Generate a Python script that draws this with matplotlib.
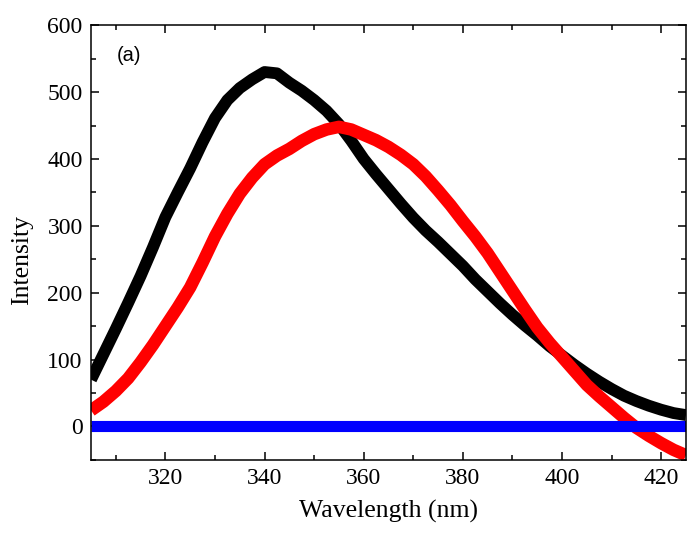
import matplotlib
matplotlib.use("Agg")
import matplotlib.pyplot as plt
from matplotlib.ticker import MultipleLocator

# wavelength grid (nm) and intensities
wavelength = [305, 307.5, 310, 312.5, 315, 317.5, 320, 322.5, 325, 327.5,
              330, 332.5, 335, 337.5, 340, 342.5, 345, 347.5, 350, 352.5,
              355, 357.5, 360, 362.5, 365, 367.5, 370, 372.5, 375, 377.5,
              380, 382.5, 385, 387.5, 390, 392.5, 395, 397.5, 400, 402.5,
              405, 407.5, 410, 412.5, 415, 417.5, 420, 422.5, 425]
black_int = [70, 108, 146, 185, 225, 268, 313, 350, 386, 425,
             461, 488, 506, 519, 530, 528, 514, 502, 488, 472,
             452, 427, 400, 377, 355, 333, 312, 293, 276, 258,
             240, 220, 202, 184, 167, 151, 136, 120, 106, 92,
             79, 67, 56, 46, 38, 31, 25, 20, 17]
red_int = [24, 37, 53, 72, 96, 122, 150, 178, 208, 245,
           284, 318, 348, 372, 392, 405, 415, 427, 437, 444,
           448, 444, 436, 428, 418, 406, 392, 374, 353, 331,
           307, 284, 259, 231, 203, 175, 148, 125, 104, 83,
           62, 45, 29, 13, -2, -14, -25, -35, -43]
blue_int = [0] * len(wavelength)

fig = plt.figure(figsize=(6.87, 5.36), dpi=100)
ax = fig.add_axes([0.1325, 0.142, 0.866, 0.811])

ax.plot(wavelength, black_int, color="black", lw=8.5, solid_joinstyle="round", solid_capstyle="butt")
ax.plot(wavelength, red_int, color="#ff0000", lw=9, solid_joinstyle="round", solid_capstyle="butt")
ax.plot(wavelength, blue_int, color="#0000ff", lw=8, solid_capstyle="butt")

ax.set_xlim(305, 425)
ax.set_ylim(-50, 600)
ax.xaxis.set_major_locator(MultipleLocator(20))
ax.xaxis.set_minor_locator(MultipleLocator(10))
ax.yaxis.set_major_locator(MultipleLocator(100))
ax.yaxis.set_minor_locator(MultipleLocator(50))
ax.tick_params(which="both", direction="in", top=True, right=True, width=1.1)
ax.tick_params(which="major", length=6, labelsize=17, pad=6)
ax.tick_params(which="minor", length=3.5)
for lab in ax.get_xticklabels() + ax.get_yticklabels():
    lab.set_family("Liberation Serif")
for sp in ax.spines.values():
    sp.set_linewidth(1.1)

ax.set_xlabel("Wavelength (nm)", family="Liberation Serif", fontsize=18.5, labelpad=8)
ax.set_ylabel("Intensity", family="Liberation Serif", fontsize=18.5)
ax.yaxis.set_label_coords(-0.097, 0.46)
ax.text(0.044, 0.93, "(a)", transform=ax.transAxes, family="Liberation Sans",
        fontsize=14.5, va="center", ha="left")

fig.savefig("out.png", dpi=100)
